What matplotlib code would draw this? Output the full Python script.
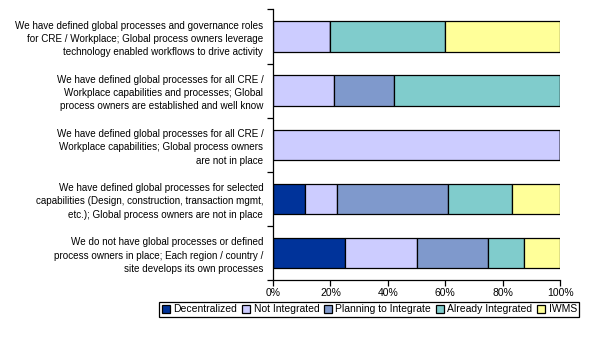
import matplotlib
matplotlib.use("Agg")
import matplotlib.pyplot as plt
import numpy as np
from matplotlib.ticker import FixedLocator, PercentFormatter

plt.rcParams["font.family"] = ["Liberation Sans", "DejaVu Sans"]

# maturity statements, top to bottom
categories = [
    "We have defined global processes and governance roles\nfor CRE / Workplace; Global process owners leverage\ntechnology enabled workflows to drive activity",
    "We have defined global processes for all CRE /\nWorkplace capabilities and processes; Global\nprocess owners are established and well know",
    "We have defined global processes for all CRE /\nWorkplace capabilities; Global process owners\nare not in place",
    "We have defined global processes for selected\ncapabilities (Design, construction, transaction mgmt,\netc.); Global process owners are not in place",
    "We do not have global processes or defined\nprocess owners in place; Each region / country /\nsite develops its own processes",
]
series = ["Decentralized", "Not Integrated", "Planning to Integrate", "Already Integrated", "IWMS"]
decentralized = [0.0, 0.0, 0.0, 11.1, 25.0]
not_integrated = [20.0, 21.1, 100.0, 11.1, 25.0]
planning = [0.0, 21.1, 0.0, 38.9, 25.0]
already = [40.0, 57.8, 0.0, 22.2, 12.5]
iwms = [40.0, 0.0, 0.0, 16.7, 12.5]
colors = ["#00339A", "#CCCCFF", "#7F99CC", "#80CCCC", "#FFFF99"]

fig = plt.figure(figsize=(5.94, 3.39), dpi=100)
ax = fig.add_axes([0.4596, 0.174, 0.4832, 0.798])

y = np.arange(len(categories))
left = np.zeros(len(categories))
for name, vals, col in zip(series, [decentralized, not_integrated, planning, already, iwms], colors):
    vals = np.array(vals)
    ax.barh(y, vals, left=left, height=0.56, color=col, edgecolor="black", linewidth=0.9, label=name)
    left += vals

ax.set_ylim(len(categories) - 0.5, -0.5)
ax.set_xlim(0, 100)
ax.set_yticks(y)
ax.set_yticklabels(categories, fontsize=7.1, linespacing=1.4)
ax.yaxis.set_minor_locator(FixedLocator(np.arange(-0.5, len(categories), 1.0)))
ax.tick_params(axis="y", which="major", length=0, pad=7)
ax.tick_params(axis="y", which="minor", length=4, width=0.9)
ax.set_xticks(np.arange(0, 101, 20))
ax.xaxis.set_major_formatter(PercentFormatter(decimals=0))
ax.tick_params(axis="x", length=4, width=0.9, labelsize=7.5, pad=2)
for s in ["top", "right"]:
    ax.spines[s].set_visible(False)
for s in ["left", "bottom"]:
    ax.spines[s].set_linewidth(0.9)

leg = fig.legend(loc="center", bbox_to_anchor=(0.622, 0.088), ncol=5, fontsize=7.5,
                 handlelength=0.8, handleheight=0.8, handletextpad=0.3, columnspacing=0.45,
                 borderpad=0.25, fancybox=False, framealpha=1, edgecolor="black", borderaxespad=0)
leg.get_frame().set_linewidth(0.9)

fig.savefig("out.png", dpi=100)
